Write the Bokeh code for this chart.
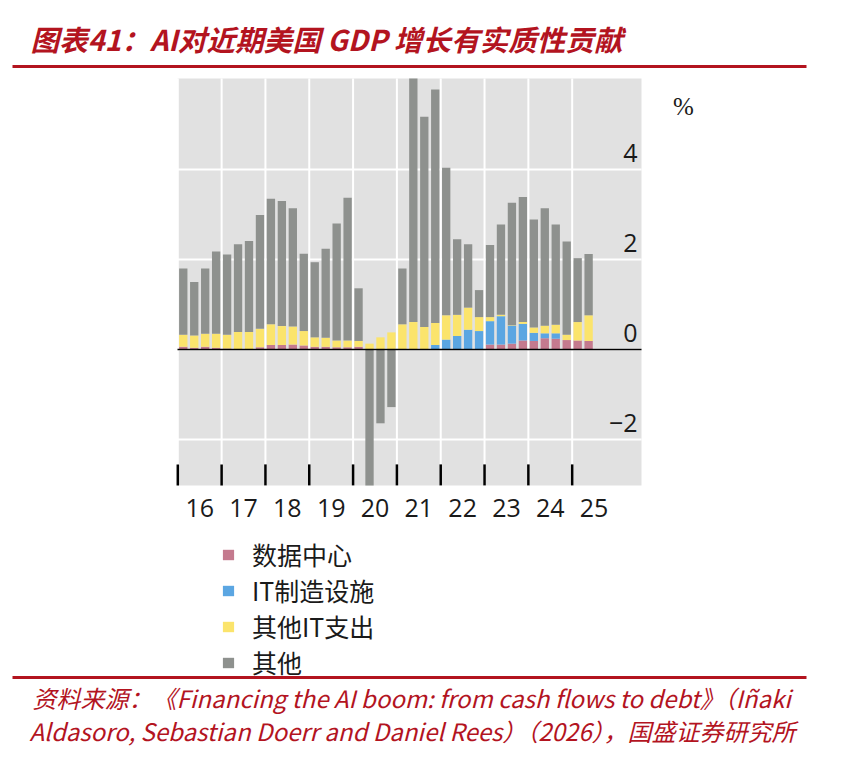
import numpy as np
from bokeh.plotting import figure
from bokeh.models import Range1d, Legend, LegendItem, ColumnDataSource
from bokeh.core.properties import value
from bokeh.embed import file_html
from bokeh.resources import INLINE

# ---------------- data ----------------
title_text = "图表41：AI对近期美国 GDP 增长有实质性贡献"
source_line1 = "资料来源：《Financing the AI boom: from cash flows to debt》（Iñaki"
source_line2 = "Aldasoro, Sebastian Doerr and Daniel Rees）（2026），国盛证券研究所"
unit_label = "%"

years = [2016, 2017, 2018, 2019, 2020, 2021, 2022, 2023, 2024, 2025]
year_labels = ["16", "17", "18", "19", "20", "21", "22", "23", "24", "25"]
quarter_year = [2016] * 4 + [2017] * 4 + [2018] * 4 + [2019] * 4 + [2020] * 4 + \
               [2021] * 4 + [2022] * 4 + [2023] * 4 + [2024] * 4 + [2025] * 2
quarter_num = [1, 2, 3, 4] * 9 + [1, 2]

series_names = ["数据中心", "IT制造设施", "其他IT支出", "其他"]
data_centre = [0.06, 0.04, 0.06, 0.04, 0.02, 0.01, 0.01, 0.05,
               0.10, 0.10, 0.11, 0.09, 0.06, 0.06, 0.05, 0.05,
               0.06, 0.00, 0.00, 0.00, 0.00, 0.00, 0.00, 0.00,
               0.00, 0.00, 0.00, 0.00, 0.11, 0.11, 0.13, 0.20,
               0.19, 0.25, 0.24, 0.21, 0.20, 0.19]
it_manufacturing = [0.00, 0.00, 0.00, 0.00, 0.00, 0.00, 0.00, 0.00,
                    0.00, 0.00, 0.00, 0.00, 0.00, 0.00, 0.00, 0.00,
                    0.00, 0.00, 0.00, 0.00, 0.00, 0.00, 0.00, 0.10,
                    0.22, 0.30, 0.44, 0.41, 0.52, 0.63, 0.40, 0.37,
                    0.18, 0.11, 0.12, 0.00, 0.00, 0.00]
other_it = [0.27, 0.27, 0.29, 0.31, 0.31, 0.38, 0.38, 0.41,
            0.46, 0.42, 0.40, 0.32, 0.21, 0.20, 0.15, 0.15,
            0.13, 0.13, 0.27, 0.38, 0.56, 0.61, 0.50, 0.49,
            0.54, 0.47, 0.49, 0.31, 0.09, 0.03, 0.01, 0.04,
            0.12, 0.17, 0.19, 0.12, 0.41, 0.57]
other = [1.47, 1.19, 1.45, 1.83, 1.78, 1.95, 2.02, 2.53,
         2.79, 2.78, 2.63, 1.72, 1.67, 1.98, 2.60, 3.17,
         1.17, -7.50, -1.64, -1.28, 1.24, 6.90, 4.67, 5.19,
         3.28, 1.68, 1.41, 0.60, 1.60, 2.01, 2.72, 2.78,
         2.40, 2.61, 2.23, 2.07, 1.42, 1.36]
y_ticks = [-2, 0, 2, 4]
y_tick_labels = ["\u22122", "0", "2", "4"]
y_min, y_max = -3.02, 6.02          # visible value range of the chart panel

# ---------------- style / layout ----------------
colors = ["#c47a8e", "#5ba6e2", "#fbe46c", "#8e918e"]
red = "#b3141f"
bg = "#e1e1e1"
ink = "#1a1a1a"
W, H = 829, 763
PX_YEAR = 43.82      # pixels per year
PX_UNIT = 45.0       # pixels per percentage point
X_2016 = 177.3       # pixel column of the start of 2016
Y_ZERO = 349.0       # pixel row of the zero line

xs = 2016 - X_2016 / PX_YEAR
ye = Y_ZERO / PX_UNIT
p = figure(output_backend="svg", toolbar_location=None, width=W, height=H,
           x_range=Range1d(xs, xs + W / PX_YEAR),
           y_range=Range1d(ye - H / PX_UNIT, ye),
           x_axis_location=None, y_axis_location=None, min_border=0)
p.outline_line_color = None
p.background_fill_color = "white"
p.border_fill_color = "white"
p.grid.grid_line_color = None


def X(px):
    return xs + px / PX_YEAR


def Y(py):
    return ye - py / PX_UNIT


x_left = X(177)
x_right = X(641)

# chart panel background and grid
p.quad(left=[x_left], right=[x_right], bottom=[y_min], top=[y_max],
       fill_color=bg, line_color=None)
p.segment(x0=years, y0=y_min, x1=years, y1=y_max, line_color="white", line_width=2)
p.segment(x0=x_left, y0=y_ticks, x1=x_right, y1=y_ticks, line_color="white", line_width=2)

# stacked bars (clipped to the visible panel)
qx = np.array(quarter_year) + (np.array(quarter_num) - 0.5) / 4.0
comps = [np.array(data_centre), np.array(it_manufacturing), np.array(other_it),
         np.maximum(np.array(other), 0)]
cum = np.zeros(len(qx))
renderers = []
for comp, col in zip(comps, colors):
    bottom = np.clip(cum, y_min, y_max)
    top = np.clip(cum + comp, y_min, y_max)
    cum = cum + comp
    src = ColumnDataSource(dict(x=qx, bottom=bottom, top=top))
    r = p.vbar(x="x", bottom="bottom", top="top", width=0.19,
               fill_color=col, line_color=None, source=src)
    renderers.append(r)
neg = np.clip(np.minimum(np.array(other), 0), y_min, y_max)
p.vbar(x=qx, bottom=neg, top=0, width=0.19, fill_color=colors[3], line_color=None)

# zero line and year ticks
p.segment(x0=[x_left], y0=[0], x1=[x_right], y1=[0], line_color="black", line_width=1.5)
p.segment(x0=years, y0=y_min, x1=years, y1=y_min + 21 / PX_UNIT,
          line_color="black", line_width=2.5)

# axis labels
p.text(x=[y + 0.5 for y in years], y=y_min - 23 / PX_UNIT, text=year_labels,
       text_align="center", text_baseline="middle",
       text_font=value("Open Sans"), text_font_size=value("25px"), text_color=ink)
p.text(x=x_right - 4 / PX_YEAR, y=[t + 16.5 / PX_UNIT for t in y_ticks], text=y_tick_labels,
       text_align="right", text_baseline="middle",
       text_font=value("Open Sans"), text_font_size=value("25px"), text_color=ink)
p.text(x=[X(683)], y=[Y(106)], text=[unit_label],
       text_align="center", text_baseline="middle",
       text_font=value("Liberation Sans Narrow"), text_font_size=value("25px"),
       text_color=ink)

# title, rules, source
p.text(x=[X(30)], y=[Y(38)], text=[title_text], text_align="left", text_baseline="middle",
       text_font=value("Noto Sans CJK SC"), text_font_style="bold italic",
       text_font_size=value("28.6px"), text_color=red)
for py in (66, 677):
    p.quad(left=[X(12)], right=[X(806)], bottom=[Y(py + 1.5)], top=[Y(py - 1.5)],
           fill_color=red, line_color=None)
p.text(x=[X(32), X(29)], y=[Y(697), Y(730)], text=[source_line1, source_line2],
       text_align="left", text_baseline="middle",
       text_font=value("Noto Sans CJK SC"), text_font_style="italic",
       text_font_size=value("24px"), text_color=red)

# legend
items = [LegendItem(label=n, renderers=[r]) for n, r in zip(series_names, renderers)]
leg = Legend(items=items, location=(221, H - 680),
             orientation="vertical", padding=0, margin=0, spacing=0,
             glyph_width=14, glyph_height=13, label_height=36, label_standoff=17,
             label_text_font="Noto Sans CJK SC", label_text_font_size="25px",
             label_text_color=ink, border_line_color=None,
             background_fill_alpha=0)
p.add_layout(leg)

open("out.html", "w").write(file_html(p, INLINE))
